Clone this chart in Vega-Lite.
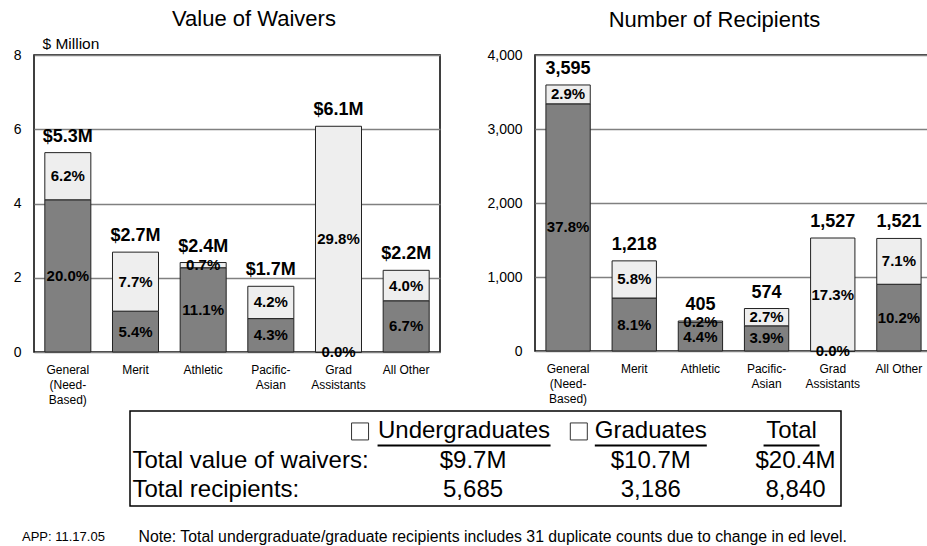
{
  "$schema": "https://vega.github.io/schema/vega-lite/v6.json",
  "padding": {"left": 12, "top": 7, "right": 0, "bottom": 0},
  "background": "white",
  "config": {
    "font": "Liberation Sans",
    "view": {"stroke": "black", "strokeWidth": 1.5},
    "axis": {"labelFont": "Liberation Sans", "titleFont": "Liberation Sans", "labelColor": "black", "titleColor": "black"},
    "title": {"font": "Liberation Sans", "fontWeight": "normal", "color": "black"},
    "text": {"font": "Liberation Sans", "color": "black"}
  },
  "datasets": {
    "waivers": [
      {"cat": "General (Need-Based)", "level": "Undergraduates", "value": 4.1, "pct": "20.0%"},
      {"cat": "General (Need-Based)", "level": "Graduates", "value": 1.27, "pct": "6.2%"},
      {"cat": "Merit", "level": "Undergraduates", "value": 1.1, "pct": "5.4%"},
      {"cat": "Merit", "level": "Graduates", "value": 1.59, "pct": "7.7%"},
      {"cat": "Athletic", "level": "Undergraduates", "value": 2.27, "pct": "11.1%"},
      {"cat": "Athletic", "level": "Graduates", "value": 0.14, "pct": "0.7%"},
      {"cat": "Pacific-Asian", "level": "Undergraduates", "value": 0.9, "pct": "4.3%"},
      {"cat": "Pacific-Asian", "level": "Graduates", "value": 0.87, "pct": "4.2%"},
      {"cat": "Grad Assistants", "level": "Undergraduates", "value": 0, "pct": "0.0%"},
      {"cat": "Grad Assistants", "level": "Graduates", "value": 6.08, "pct": "29.8%"},
      {"cat": "All Other", "level": "Undergraduates", "value": 1.38, "pct": "6.7%"},
      {"cat": "All Other", "level": "Graduates", "value": 0.82, "pct": "4.0%"}
    ],
    "waiverTotals": [
      {"cat": "General (Need-Based)", "total": 5.37, "label": "$5.3M"},
      {"cat": "Merit", "total": 2.69, "label": "$2.7M"},
      {"cat": "Athletic", "total": 2.41, "label": "$2.4M"},
      {"cat": "Pacific-Asian", "total": 1.77, "label": "$1.7M"},
      {"cat": "Grad Assistants", "total": 6.08, "label": "$6.1M"},
      {"cat": "All Other", "total": 2.2, "label": "$2.2M"}
    ],
    "recipients": [
      {"cat": "General (Need-Based)", "level": "Undergraduates", "value": 3340, "pct": "37.8%"},
      {"cat": "General (Need-Based)", "level": "Graduates", "value": 255, "pct": "2.9%"},
      {"cat": "Merit", "level": "Undergraduates", "value": 716, "pct": "8.1%"},
      {"cat": "Merit", "level": "Graduates", "value": 502, "pct": "5.8%"},
      {"cat": "Athletic", "level": "Undergraduates", "value": 388, "pct": "4.4%"},
      {"cat": "Athletic", "level": "Graduates", "value": 17, "pct": "0.2%"},
      {"cat": "Pacific-Asian", "level": "Undergraduates", "value": 340, "pct": "3.9%"},
      {"cat": "Pacific-Asian", "level": "Graduates", "value": 234, "pct": "2.7%"},
      {"cat": "Grad Assistants", "level": "Undergraduates", "value": 0, "pct": "0.0%"},
      {"cat": "Grad Assistants", "level": "Graduates", "value": 1527, "pct": "17.3%"},
      {"cat": "All Other", "level": "Undergraduates", "value": 902, "pct": "10.2%"},
      {"cat": "All Other", "level": "Graduates", "value": 619, "pct": "7.1%"}
    ],
    "recipientTotals": [
      {"cat": "General (Need-Based)", "total": 3595, "label": "3,595"},
      {"cat": "Merit", "total": 1218, "label": "1,218"},
      {"cat": "Athletic", "total": 405, "label": "405"},
      {"cat": "Pacific-Asian", "total": 574, "label": "574"},
      {"cat": "Grad Assistants", "total": 1527, "label": "1,527"},
      {"cat": "All Other", "total": 1521, "label": "1,521"}
    ],
    "table": [
      {"row": "Total value of waivers:", "col": "Undergraduates", "text": "$9.7M"},
      {"row": "Total value of waivers:", "col": "Graduates", "text": "$10.7M"},
      {"row": "Total value of waivers:", "col": "Total", "text": "$20.4M"},
      {"row": "Total recipients:", "col": "Undergraduates", "text": "5,685"},
      {"row": "Total recipients:", "col": "Graduates", "text": "3,186"},
      {"row": "Total recipients:", "col": "Total", "text": "8,840"}
    ]
  },
  "spacing": 4,
  "vconcat": [
    {
      "spacing": 45,
      "hconcat": [
        {
          "width": 406,
          "height": 297,
          "title": {"text": "Value of Waivers", "fontSize": 22, "frame": "group", "offset": 5, "dx": 17},
          "encoding": {
            "x": {
              "field": "cat", "type": "nominal", "title": null,
              "sort": ["General (Need-Based)", "Merit", "Athletic", "Pacific-Asian", "Grad Assistants", "All Other"],
              "scale": {"paddingInner": 0.32, "paddingOuter": 0.16},
              "axis": {"labelAngle": 0, "ticks": false, "domain": false, "labelPadding": 12, "labelFontSize": 12, "labelLineHeight": 15, "labelBaseline": "top",
                "labelExpr": "datum.value == 'General (Need-Based)' ? ['General', '(Need-', 'Based)'] : datum.value == 'Pacific-Asian' ? ['Pacific-', 'Asian'] : datum.value == 'Grad Assistants' ? ['Grad', 'Assistants'] : datum.value"}
            }
          },
          "layer": [
            {
              "data": {"name": "waivers"},
              "transform": [{"stack": "value", "groupby": ["cat"], "sort": [{"field": "level", "order": "descending"}], "as": ["v0", "v1"]}],
              "mark": {"type": "bar", "stroke": "#222222", "strokeWidth": 1},
              "encoding": {
                "y": {"field": "v1", "type": "quantitative", "title": "$ Million", "scale": {"domain": [0, 8]},
                  "axis": {"values": [0, 2, 4, 6, 8], "format": "d", "grid": true, "gridColor": "#808080", "gridWidth": 1.5, "domain": false, "ticks": false, "labelPadding": 13, "labelFontSize": 14,
                    "title": "$ Million", "titleAngle": 0, "titleAlign": "left", "titleBaseline": "bottom", "titleX": 8, "titleY": -4, "titleFontSize": 15.5, "titleFontWeight": "normal"}},
                "y2": {"field": "v0"},
                "color": {"field": "level", "type": "nominal", "scale": {"domain": ["Undergraduates", "Graduates"], "range": ["#808080", "#eeeeee"]}, "legend": null}
              }
            },
            {
              "data": {"name": "waivers"},
              "transform": [
                {"stack": "value", "groupby": ["cat"], "sort": [{"field": "level", "order": "descending"}], "as": ["v0", "v1"]},
                {"fold": ["v0", "v1"], "as": ["end", "pos"]}
              ],
              "mark": {"type": "text", "fontSize": 15, "fontWeight": "bold"},
              "encoding": {
                "y": {"field": "pos", "aggregate": "mean", "type": "quantitative", "title": "$ Million",
                  "axis": {"values": [0, 2, 4, 6, 8], "format": "d", "grid": true, "gridColor": "#808080", "gridWidth": 1.5, "domain": false, "ticks": false, "labelPadding": 13, "labelFontSize": 14,
                    "title": "$ Million", "titleAngle": 0, "titleAlign": "left", "titleBaseline": "bottom", "titleX": 8, "titleY": -4, "titleFontSize": 15.5, "titleFontWeight": "normal"}},
                "text": {"field": "pct", "type": "nominal"},
                "detail": {"field": "level", "type": "nominal"}
              }
            },
            {
              "data": {"name": "waiverTotals"},
              "mark": {"type": "text", "fontSize": 18, "fontWeight": "bold", "baseline": "bottom", "dy": -7},
              "encoding": {
                "y": {"field": "total", "type": "quantitative", "title": "$ Million",
                  "axis": {"values": [0, 2, 4, 6, 8], "format": "d", "grid": true, "gridColor": "#808080", "gridWidth": 1.5, "domain": false, "ticks": false, "labelPadding": 13, "labelFontSize": 14,
                    "title": "$ Million", "titleAngle": 0, "titleAlign": "left", "titleBaseline": "bottom", "titleX": 8, "titleY": -4, "titleFontSize": 15.5, "titleFontWeight": "normal"}},
                "text": {"field": "label", "type": "nominal"}
              }
            }
          ]
        },
        {
          "width": 397,
          "height": 296,
          "title": {"text": "Number of Recipients", "fontSize": 22, "frame": "group", "offset": 16, "dx": -19},
          "encoding": {
            "x": {
              "field": "cat", "type": "nominal", "title": null,
              "sort": ["General (Need-Based)", "Merit", "Athletic", "Pacific-Asian", "Grad Assistants", "All Other"],
              "scale": {"paddingInner": 0.33, "paddingOuter": 0.165},
              "axis": {"labelAngle": 0, "ticks": false, "domain": false, "labelPadding": 12, "labelFontSize": 12, "labelLineHeight": 15, "labelBaseline": "top",
                "labelExpr": "datum.value == 'General (Need-Based)' ? ['General', '(Need-', 'Based)'] : datum.value == 'Pacific-Asian' ? ['Pacific-', 'Asian'] : datum.value == 'Grad Assistants' ? ['Grad', 'Assistants'] : datum.value"}
            }
          },
          "layer": [
            {
              "data": {"name": "recipients"},
              "transform": [{"stack": "value", "groupby": ["cat"], "sort": [{"field": "level", "order": "descending"}], "as": ["v0", "v1"]}],
              "mark": {"type": "bar", "stroke": "#222222", "strokeWidth": 1},
              "encoding": {
                "y": {"field": "v1", "type": "quantitative", "title": null, "scale": {"domain": [0, 4000]},
                  "axis": {"values": [0, 1000, 2000, 3000, 4000], "format": ",d", "grid": true, "gridColor": "#808080", "gridWidth": 1.5, "domain": false, "ticks": false, "labelPadding": 13, "labelFontSize": 14, "title": null}},
                "y2": {"field": "v0"},
                "color": {"field": "level", "type": "nominal", "scale": {"domain": ["Undergraduates", "Graduates"], "range": ["#808080", "#eeeeee"]}, "legend": null}
              }
            },
            {
              "data": {"name": "recipients"},
              "transform": [
                {"stack": "value", "groupby": ["cat"], "sort": [{"field": "level", "order": "descending"}], "as": ["v0", "v1"]},
                {"fold": ["v0", "v1"], "as": ["end", "pos"]}
              ],
              "mark": {"type": "text", "fontSize": 15, "fontWeight": "bold"},
              "encoding": {
                "y": {"field": "pos", "aggregate": "mean", "type": "quantitative", "title": null,
                  "axis": {"values": [0, 1000, 2000, 3000, 4000], "format": ",d", "grid": true, "gridColor": "#808080", "gridWidth": 1.5, "domain": false, "ticks": false, "labelPadding": 13, "labelFontSize": 14, "title": null}},
                "text": {"field": "pct", "type": "nominal"},
                "detail": {"field": "level", "type": "nominal"}
              }
            },
            {
              "data": {"name": "recipientTotals"},
              "mark": {"type": "text", "fontSize": 18, "fontWeight": "bold", "baseline": "bottom", "dy": -7},
              "encoding": {
                "y": {"field": "total", "type": "quantitative", "title": null,
                  "axis": {"values": [0, 1000, 2000, 3000, 4000], "format": ",d", "grid": true, "gridColor": "#808080", "gridWidth": 1.5, "domain": false, "ticks": false, "labelPadding": 13, "labelFontSize": 14, "title": null}},
                "text": {"field": "label", "type": "nominal"}
              }
            }
          ]
        }
      ]
    },
    {
      "spacing": 10,
      "hconcat": [
        {
          "width": 85,
          "height": 95,
          "view": {"stroke": null},
          "title": {"text": "APP: 11.17.05", "orient": "bottom", "anchor": "start", "frame": "group", "fontSize": 13, "offset": 25, "dx": -12},
          "data": {"values": []},
          "mark": {"type": "point", "opacity": 0},
          "encoding": {}
        },
        {
          "width": 711,
          "height": 95,
          "encoding": {
            "x": {"field": "col", "type": "nominal", "title": null,
              "scale": {"type": "point", "domain": ["Undergraduates", "Graduates", "Total"], "padding": 1, "align": 0.965},
              "axis": {"orient": "bottom", "labels": false, "ticks": false, "domain": false, "grid": false,
                "title": "Note: Total undergraduate/graduate recipients includes 31 duplicate counts due to change in ed level.",
                "titleX": 8, "titleY": 30, "titleAlign": "left", "titleAnchor": "start", "titleBaseline": "middle", "titleFontSize": 15.8, "titleFontWeight": "normal"}},
            "y": {"field": "row", "type": "nominal", "title": null,
              "scale": {"type": "point", "domain": ["header", "Total value of waivers:", "Total recipients:"], "padding": 0.624, "align": 0.56},
              "axis": {"orient": "left", "domain": false, "ticks": false, "tickSize": 0, "grid": false, "labelAlign": "left", "labelBaseline": "middle", "labelPadding": -2, "labelFontSize": 24, "labelLimit": 0,
                "labelExpr": "datum.value == 'header' ? '' : datum.value", "title": null}}
          },
          "layer": [
            {
              "data": {"name": "table"},
              "transform": [{"filter": {"field": "col", "oneOf": ["Undergraduates", "Graduates"]}}],
              "mark": {"type": "text", "fontSize": 24},
              "encoding": {"text": {"field": "text", "type": "nominal"}}
            },
            {
              "data": {"name": "table"},
              "transform": [{"filter": {"field": "col", "equal": "Total"}}],
              "mark": {"type": "text", "fontSize": 24, "xOffset": -33},
              "encoding": {"text": {"field": "text", "type": "nominal"}}
            },
            {
              "data": {"values": [{"col": "Undergraduates", "row": "header"}]},
              "layer": [
                {"mark": {"type": "square", "size": 289, "fill": "white", "stroke": "#333333", "strokeWidth": 1, "opacity": 1, "xOffset": -113}},
                {"mark": {"type": "text", "fontSize": 24, "xOffset": -9}, "encoding": {"text": {"field": "col", "type": "nominal"}}},
                {"mark": {"type": "tick", "orient": "horizontal", "size": 173, "thickness": 2, "color": "black", "opacity": 1, "xOffset": -9, "yOffset": 14}}
              ]
            },
            {
              "data": {"values": [{"col": "Graduates", "row": "header"}]},
              "layer": [
                {"mark": {"type": "square", "size": 289, "fill": "white", "stroke": "#333333", "strokeWidth": 1, "opacity": 1, "xOffset": -72}},
                {"mark": {"type": "text", "fontSize": 24, "xOffset": 0}, "encoding": {"text": {"field": "col", "type": "nominal"}}},
                {"mark": {"type": "tick", "orient": "horizontal", "size": 112, "thickness": 2, "color": "black", "opacity": 1, "xOffset": 0, "yOffset": 14}}
              ]
            },
            {
              "data": {"values": [{"col": "Total", "row": "header"}]},
              "layer": [
                {"mark": {"type": "text", "fontSize": 24, "xOffset": -37}, "encoding": {"text": {"field": "col", "type": "nominal"}}},
                {"mark": {"type": "tick", "orient": "horizontal", "size": 56, "thickness": 2, "color": "black", "opacity": 1, "xOffset": -37, "yOffset": 14}}
              ]
            }
          ]
        }
      ]
    }
  ]
}
